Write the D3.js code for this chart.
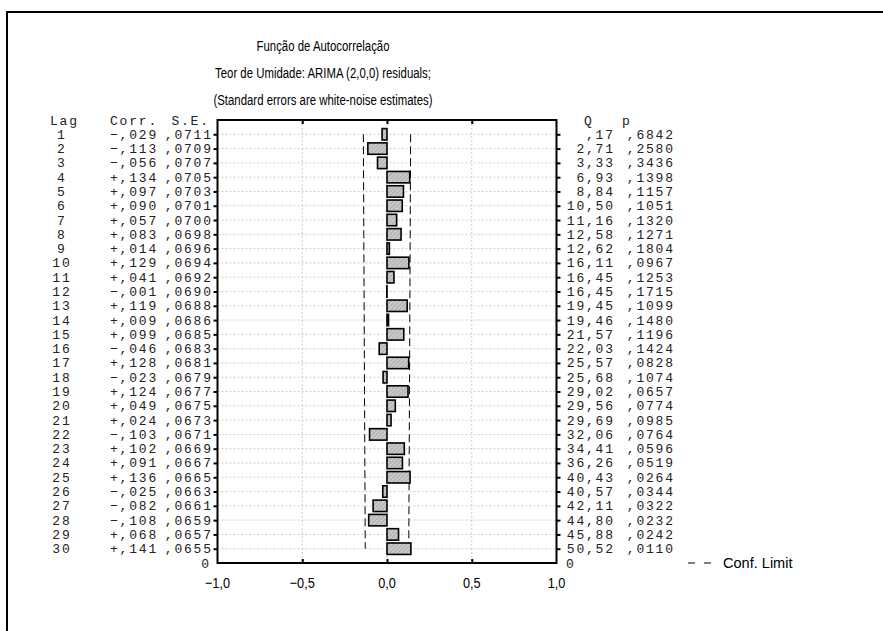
<!DOCTYPE html>
<html>
<head>
<meta charset="utf-8">
<script src="https://cdnjs.cloudflare.com/ajax/libs/d3/7.8.5/d3.min.js"></script>
<style>
  body { margin: 0; background: #fff; }
  svg { display: block; }
  .mono { font-family: "Liberation Mono", "Courier New", monospace; font-size: 13px; letter-spacing: 1.8px; fill: #222; }
  .sans { font-family: "Liberation Sans", Arial, sans-serif; font-size: 15px; fill: #000; }
</style>
</head>
<body>
<svg width="883" height="631"></svg>
<script>
// ACF table values
var lags = [1,2,3,4,5,6,7,8,9,10,11,12,13,14,15,16,17,18,19,20,21,22,23,24,25,26,27,28,29,30];
var corr = [-0.029,-0.113,-0.056,0.134,0.097,0.090,0.057,0.083,0.014,0.129,
            0.041,-0.001,0.119,0.009,0.099,-0.046,0.128,-0.023,0.124,0.049,
            0.024,-0.103,0.102,0.091,0.136,-0.025,-0.082,-0.108,0.068,0.141];
var stdErr = [0.0711,0.0709,0.0707,0.0705,0.0703,0.0701,0.0700,0.0698,0.0696,0.0694,
              0.0692,0.0690,0.0688,0.0686,0.0685,0.0683,0.0681,0.0679,0.0677,0.0675,
              0.0673,0.0671,0.0669,0.0667,0.0665,0.0663,0.0661,0.0659,0.0657,0.0655];
var qStat = [0.17,2.71,3.33,6.93,8.84,10.50,11.16,12.58,12.62,16.11,
             16.45,16.45,19.45,19.46,21.57,22.03,25.57,25.68,29.02,29.56,
             29.69,32.06,34.41,36.26,40.43,40.57,42.11,44.80,45.88,50.52];
var pVal = [0.6842,0.2580,0.3436,0.1398,0.1157,0.1051,0.1320,0.1271,0.1804,0.0967,
            0.1253,0.1715,0.1099,0.1480,0.1196,0.1424,0.0828,0.1074,0.0657,0.0774,
            0.0985,0.0764,0.0596,0.0519,0.0264,0.0344,0.0322,0.0232,0.0242,0.0110];
var xTicks = [-1, -0.5, 0, 0.5, 1];
var titleLines = ["Função de Autocorrelação",
                  "Teor de Umidade: ARIMA (2,0,0) residuals;",
                  "(Standard errors are white-noise estimates)"];

var rows = lags.map(function(l, i) {
    return { lag: l, corr: corr[i], se: stdErr[i], q: qStat[i], p: pVal[i] };
});

var svg = d3.select("svg");

//scales: row 0 is the header line, row 31 is the bottom axis
var x = d3.scaleLinear().domain([-1, 1]).range([217.5, 556.5]);
var y = d3.scaleLinear().domain([0, 31]).range([120, 563]);
var step = y(1) - y(0);

//number formats in the Statistica style (comma decimals, no leading zero)
var f3 = d3.format(".3f"), f4 = d3.format(".4f"), f2 = d3.format(".2f");
function noLead(s) { return s.replace(".", ",").replace(/^0/, ""); }
function fmtCorr(v) { return (v < 0 ? "\u2212" : "+") + noLead(f3(Math.abs(v))); }
function fmtAxis(v) { return d3.format(".1f")(v).replace(".", ","); }

//hatch for the bars
var pat = svg.append("defs").append("pattern")
    .attr("id", "hatch")
    .attr("patternUnits", "userSpaceOnUse")
    .attr("width", 3).attr("height", 3)
    .attr("patternTransform", "rotate(45)");
pat.append("rect").attr("width", 3).attr("height", 3).attr("fill", "#cacaca");
pat.append("line").attr("x1", 0).attr("y1", 0).attr("x2", 0).attr("y2", 3)
    .attr("stroke", "#8e8e8e").attr("stroke-width", 1);

//outer frame (only top and left edges show)
svg.append("path")
    .attr("d", "M7,631V12H883")
    .attr("fill", "none").attr("stroke", "#000").attr("stroke-width", 2);

//titles
svg.selectAll(".title")
    .data(titleLines)
    .enter().append("text")
    .attr("class", "sans title")
    .attr("text-anchor", "middle")
    .attr("transform", function(d, i) { return "translate(323," + (51 + i * 27) + ") scale(0.76,1)"; })
    .text(function(d) { return d; });

//grid lines
svg.append("g").selectAll("line")
    .data(lags)
    .enter().append("line")
    .attr("x1", x(-1)).attr("x2", x(1))
    .attr("y1", function(d) { return y(d); })
    .attr("y2", function(d) { return y(d); })
    .attr("stroke", "#c0c0c0").attr("stroke-width", 0.8).attr("stroke-dasharray", "2,2");

svg.append("g").selectAll("line")
    .data([-0.5, 0, 0.5])
    .enter().append("line")
    .attr("x1", function(d) { return x(d); })
    .attr("x2", function(d) { return x(d); })
    .attr("y1", y(0)).attr("y2", y(31))
    .attr("stroke", "#c0c0c0").attr("stroke-width", 0.8).attr("stroke-dasharray", "2,2");

//confidence limits
var confLine = function(sign) {
    return d3.line()
        .x(function(d) { return x(sign * 1.96 * d.se); })
        .y(function(d) { return y(d.lag); });
};
[-1, 1].forEach(function(s) {
    svg.append("path")
        .datum(rows)
        .attr("d", confLine(s))
        .attr("fill", "none")
        .attr("stroke", "#000").attr("stroke-width", 1)
        .attr("stroke-dasharray", "8,4");
});

//bars
var barH = step * 0.8;
svg.append("g").selectAll("rect")
    .data(rows)
    .enter().append("rect")
    .attr("x", function(d) { return x(Math.min(0, d.corr)); })
    .attr("y", function(d) { return y(d.lag) - barH / 2; })
    .attr("width", function(d) { return Math.abs(x(d.corr) - x(0)); })
    .attr("height", barH)
    .attr("fill", "url(#hatch)")
    .attr("stroke", "#000").attr("stroke-width", 1.6);

//axes: the box with ticks (left/right point out, top/bottom point in)
svg.append("g")
    .attr("transform", "translate(" + x(-1) + ",0)")
    .call(d3.axisLeft(y).tickValues(lags).tickSize(4).tickFormat(""));
svg.append("g")
    .attr("transform", "translate(" + x(1) + ",0)")
    .call(d3.axisRight(y).tickValues(lags).tickSize(4).tickFormat(""));
svg.append("g")
    .attr("transform", "translate(0," + y(0) + ")")
    .call(d3.axisBottom(x).tickValues([-0.5, 0, 0.5]).tickSize(4).tickFormat(""));
svg.append("g")
    .attr("transform", "translate(0," + y(31) + ")")
    .call(d3.axisTop(x).tickValues([-0.5, 0, 0.5]).tickSize(4).tickFormat(""));
svg.selectAll(".domain").remove();
svg.selectAll(".tick line").attr("stroke", "#000").attr("stroke-width", 2);

svg.append("rect")
    .attr("x", x(-1)).attr("y", y(0))
    .attr("width", x(1) - x(-1)).attr("height", y(31) - y(0))
    .attr("fill", "none").attr("stroke", "#000").attr("stroke-width", 2);

//x tick labels
svg.selectAll(".xlab")
    .data(xTicks)
    .enter().append("text")
    .attr("class", "sans xlab")
    .attr("text-anchor", "middle")
    .attr("transform", function(d) { return "translate(" + x(d) + ",588) scale(0.85,1)"; })
    .text(fmtAxis);

//left table
var mid = 4.5, ls = 1.8;
svg.append("text").attr("class", "mono").attr("x", 50).attr("y", y(0) + mid).text("Lag");
svg.append("text").attr("class", "mono").attr("x", 110).attr("y", y(0) + mid).text("Corr.");
svg.append("text").attr("class", "mono").attr("x", 208 + ls).attr("y", y(0) + mid)
    .attr("text-anchor", "end").text("S.E.");
svg.append("text").attr("class", "mono").attr("x", 209 + ls).attr("y", y(31) + mid)
    .attr("text-anchor", "end").text("0");

var left = svg.append("g").selectAll("g")
    .data(rows)
    .enter().append("g")
    .attr("transform", function(d) { return "translate(0," + (y(d.lag) + mid) + ")"; });
left.append("text").attr("class", "mono").attr("x", 61 + ls / 2).attr("text-anchor", "middle")
    .text(function(d) { return d.lag; });
left.append("text").attr("class", "mono").attr("x", 110)
    .text(function(d) { return fmtCorr(d.corr); });
left.append("text").attr("class", "mono").attr("x", 211 + ls).attr("text-anchor", "end")
    .text(function(d) { return noLead(f4(d.se)); });

//right table
svg.append("text").attr("class", "mono").attr("x", 584).attr("y", y(0) + mid).text("Q");
svg.append("text").attr("class", "mono").attr("x", 622).attr("y", y(0) + mid).text("p");
svg.append("text").attr("class", "mono").attr("x", 566).attr("y", y(31) + mid).text("0");

var right = svg.append("g").selectAll("g")
    .data(rows)
    .enter().append("g")
    .attr("transform", function(d) { return "translate(0," + (y(d.lag) + mid) + ")"; });
right.append("text").attr("class", "mono").attr("x", 613 + ls).attr("text-anchor", "end")
    .text(function(d) { return noLead(f2(d.q)); });
right.append("text").attr("class", "mono").attr("x", 673 + ls).attr("text-anchor", "end")
    .text(function(d) { return noLead(f4(d.p)); });

//legend
svg.append("line")
    .attr("x1", 688).attr("x2", 711)
    .attr("y1", y(31)).attr("y2", y(31))
    .attr("stroke", "#000").attr("stroke-width", 1).attr("stroke-dasharray", "7,9");
svg.append("text")
    .attr("class", "sans")
    .attr("transform", "translate(723," + (y(31) + 5) + ") scale(0.97,1)")
    .text("Conf. Limit");
</script>
</body>
</html>
